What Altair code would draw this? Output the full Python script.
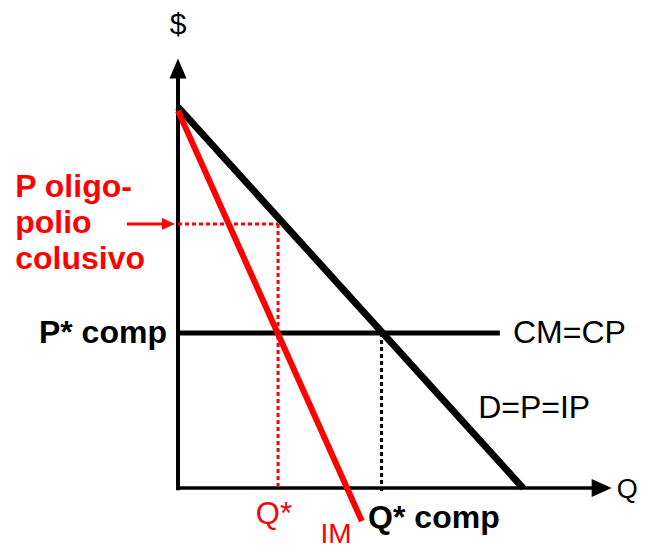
import altair as alt
import pandas as pd

# ---- data (Q, P) ----
demand_q = [0, 10.0]
demand_p = [10.0, 0]
im_q = [0, 5.33]
im_p = [9.9, -0.87]
cm_q = [0, 9.33]
cm_p = [4.07, 4.07]
yaxis_q = [0, 0]
yaxis_p = [-0.06, 10.95]
xaxis_q = [-0.05, 12.28]
xaxis_p = [0, 0]
polig_h_q = [0, 2.9]
polig_h_p = [6.93, 6.93]
qstar_v_q = [2.9, 2.9]
qstar_v_p = [6.93, 0]
qcomp_v_q = [5.9, 5.9]
qcomp_v_p = [4.07, -0.16]
arrow_q = [-1.48, -0.35]
arrow_p = [6.93, 6.93]

# arrow heads: q, p, shape
head_q = [0, 12.28, -0.275]
head_p = [11.01, 0, 6.93]
head_shape = ["M-0.85,1L0,-1L0.85,1Z", "M-1,-0.9L1,0L-1,0.9Z", "M-1,-0.9L1,0L-1,0.9Z"]
head_size = [400, 400, 169]
head_color = ["black", "black", "red"]

# labels
lab_text = ["$", "Q", "P* comp", "P oligo-", "polio", "colusivo", "CM=CP", "D=P=IP", "Q*", "Q* comp", "IM"]
lab_q = [0, 12.72, -0.32, -4.72, -4.72, -4.72, 9.71, 8.70, 2.78, 5.51, 4.58]
lab_p = [12.15, -0.26, 4.07, 7.90, 6.96, 6.01, 4.07, 2.10, -0.71, -0.79, -1.444]
lab_color = ["black", "black", "black", "red", "red", "red", "black", "black", "red", "black", "red"]
lab_bold = [False, False, True, True, True, True, False, False, False, True, False]
lab_align = ["center", "left", "right", "left", "left", "left", "left", "left", "center", "left", "center"]
lab_base = ["middle", "alphabetic", "middle", "middle", "middle", "middle", "middle", "middle", "middle", "middle", "alphabetic"]
lab_size = [30, 27, 32, 32, 32, 32, 32, 32, 31, 32, 28]

W, H = 635, 543
PXQ, PXP = 34.5, 38.1
q0, p0 = 170, 480
xmin = -q0 / PXQ
xmax = xmin + W / PXQ
ymax = p0 / PXP
ymin = ymax - H / PXP

xs = alt.Scale(domain=[xmin, xmax], nice=False, zero=False)
ys = alt.Scale(domain=[ymin, ymax], nice=False, zero=False)


def seg(qs, ps, color, width, dash=None):
    df = pd.DataFrame({"q": qs, "p": ps, "i": list(range(len(qs)))})
    kw = dict(color=color, strokeWidth=width, strokeCap="butt", clip=False)
    if dash:
        kw["strokeDash"] = dash
    return alt.Chart(df).mark_line(**kw).encode(
        x=alt.X("q:Q", scale=xs, axis=None),
        y=alt.Y("p:Q", scale=ys, axis=None),
        order="i:O",
    )


layers = [
    seg(yaxis_q, yaxis_p, "black", 4),
    seg(xaxis_q, xaxis_p, "black", 3.5),
    seg(polig_h_q, polig_h_p, "red", 3, [4, 3]),
    seg(qstar_v_q, qstar_v_p, "red", 3, [4, 3]),
    seg(qcomp_v_q, qcomp_v_p, "black", 3, [4, 3]),
    seg(cm_q, cm_p, "black", 5),
    seg(demand_q, demand_p, "black", 7),
    seg(im_q, im_p, "red", 6),
    seg(arrow_q, arrow_p, "red", 3),
]

for hq, hp, hs, hz, hc in zip(head_q, head_p, head_shape, head_size, head_color):
    df = pd.DataFrame({"q": [hq], "p": [hp]})
    layers.append(
        alt.Chart(df).mark_point(shape=hs, size=hz, filled=True, color=hc,
                                 opacity=1, strokeWidth=0, clip=False).encode(
            x=alt.X("q:Q", scale=xs, axis=None),
            y=alt.Y("p:Q", scale=ys, axis=None),
        )
    )

for t, lq, lp, c, b, a, bl, s in zip(lab_text, lab_q, lab_p, lab_color, lab_bold,
                                     lab_align, lab_base, lab_size):
    df = pd.DataFrame({"q": [lq], "p": [lp], "t": [t]})
    layers.append(
        alt.Chart(df).mark_text(font="Liberation Sans", fontSize=s,
                                fontWeight="bold" if b else "normal",
                                color=c, align=a, baseline=bl, clip=False).encode(
            x=alt.X("q:Q", scale=xs, axis=None),
            y=alt.Y("p:Q", scale=ys, axis=None),
            text="t:N",
        )
    )

chart = alt.layer(*layers).properties(
    width=W, height=H, padding=0,
    autosize=alt.AutoSizeParams(type="none"),
).configure_view(stroke=None)

chart.save("out.html", embed_options={"renderer": "svg", "actions": False})
